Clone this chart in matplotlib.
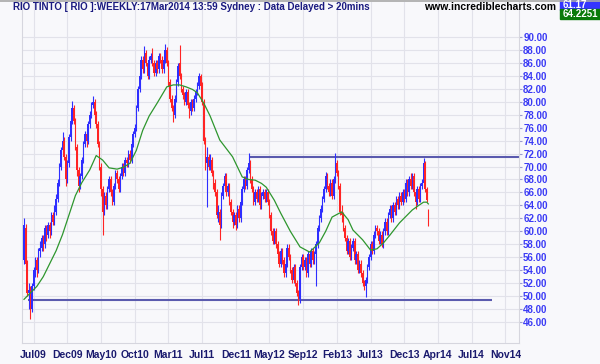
import matplotlib
matplotlib.use("Agg")
import matplotlib.pyplot as plt
import numpy as np

# weekly candles, RIO (ASX), bar index 0 = late May 2009
opens = [
    55.5, 60.5, 55.0, 50.5, 51.0, 48.0, 51.5, 54.0, 55.5, 54.0,
    57.0, 57.5, 59.0, 58.0, 60.5, 59.5, 61.0, 60.0, 62.5, 61.5,
    63.0, 65.0, 67.5, 70.0, 72.5, 74.0, 71.5, 68.0, 70.5, 74.5,
    77.0, 79.0, 77.0, 73.0, 69.5, 67.0, 68.5, 71.0, 73.5, 75.0,
    74.0, 76.5, 78.0, 79.5, 80.0, 78.0, 76.5, 73.5, 70.0, 66.5,
    63.0, 65.5, 64.0, 66.5, 68.0, 66.0, 64.5, 67.0, 69.0, 68.0,
    66.5, 68.5, 70.0, 69.0, 71.0, 70.5, 72.0, 71.0, 73.5, 75.0,
    76.0, 79.0, 82.0, 84.0, 86.5, 85.0, 87.5, 86.0, 84.0, 86.5,
    87.0, 86.0, 84.5, 86.0, 85.0, 87.0, 86.5, 85.0, 86.5, 88.0,
    86.0, 83.0, 80.5, 79.0, 78.0, 80.5, 83.0, 86.0, 84.0, 82.0,
    81.0, 80.0, 81.5, 79.5, 78.5, 80.0, 79.0, 80.5, 81.5, 82.5,
    84.0, 82.5, 80.0, 74.0, 70.5, 71.5, 70.0, 71.0, 69.0, 67.5,
    66.0, 62.5, 63.0, 61.0, 65.5, 67.0, 68.5, 66.0, 67.0, 64.5,
    63.0, 61.5, 62.5, 61.0, 63.5, 62.0, 64.5, 66.5, 68.0, 67.0,
    69.5, 70.5, 68.0, 66.5, 64.5, 66.0, 65.0, 66.5, 64.0, 65.5,
    66.0, 65.0, 66.0, 64.5, 62.5, 60.0, 58.5, 60.0, 58.0, 56.5,
    55.0, 57.0, 55.5, 53.5, 55.0, 57.5, 56.0, 54.0, 52.5, 54.5,
    52.0, 50.5, 49.5, 54.5, 56.0, 54.5, 55.5, 53.5, 56.5, 55.0,
    57.0, 55.5, 56.5, 58.0, 60.5, 62.0, 63.5, 65.0, 66.5, 68.5,
    67.0, 66.0, 67.5, 65.5, 68.0, 70.5, 69.0, 67.0, 63.0, 62.5,
    60.5, 59.0, 57.0, 58.5, 56.0, 57.5, 58.5, 55.5, 56.5, 54.0,
    55.0, 53.5, 52.0, 51.5, 52.5, 54.5, 56.0, 58.0, 57.0, 59.5,
    60.5, 60.0, 58.5, 59.5, 58.0, 60.0, 61.5, 60.0, 62.5, 63.5,
    62.0, 64.0, 63.0, 65.0, 64.0, 65.5, 64.5, 66.0, 65.0, 67.5,
    66.0, 68.0, 67.0, 68.5, 66.0, 64.5, 66.5, 65.0, 67.0, 67.5,
    70.5, 66.5, 63.2,
]
highs = [
    62.0, 61.2, 55.5, 52.0, 51.5, 52.0, 54.5, 56.0, 56.0, 57.5,
    58.5, 59.5, 59.5, 61.0, 61.0, 61.5, 61.5, 63.0, 63.0, 64.0,
    65.8, 68.0, 70.5, 73.0, 75.3, 74.5, 72.0, 71.0, 75.0, 77.5,
    80.1, 79.5, 77.5, 73.5, 70.0, 69.0, 71.5, 74.0, 75.5, 75.5,
    77.0, 78.5, 80.0, 80.9, 80.5, 78.5, 77.0, 74.0, 70.5, 67.0,
    66.0, 66.0, 67.0, 68.5, 68.5, 66.5, 67.5, 69.5, 69.5, 68.5,
    69.0, 70.5, 70.5, 71.5, 71.5, 72.5, 72.5, 74.0, 75.5, 76.5,
    79.5, 82.5, 84.5, 87.0, 87.0, 88.6, 88.0, 86.5, 87.0, 87.5,
    88.3, 86.5, 86.5, 86.5, 87.5, 87.5, 87.0, 87.0, 88.9, 88.5,
    86.5, 83.5, 81.0, 79.5, 81.0, 83.5, 86.0, 88.8, 84.5, 82.5,
    81.5, 82.0, 82.0, 80.0, 80.5, 80.5, 81.0, 82.0, 83.0, 84.4,
    84.3, 83.0, 80.5, 74.5, 73.0, 72.0, 72.0, 71.5, 69.5, 68.0,
    66.5, 64.0, 63.5, 66.0, 67.5, 69.0, 69.0, 67.5, 67.5, 65.0,
    63.5, 63.0, 63.0, 64.0, 64.0, 65.0, 67.0, 68.5, 68.5, 70.0,
    72.1, 71.0, 68.5, 67.0, 66.5, 66.5, 67.0, 67.0, 66.0, 66.5,
    66.5, 66.5, 66.5, 65.0, 63.0, 60.5, 60.5, 60.5, 58.5, 57.0,
    57.5, 57.5, 56.0, 55.5, 58.0, 58.0, 56.5, 54.5, 55.0, 55.0,
    52.5, 51.0, 55.0, 56.5, 56.5, 56.0, 56.0, 57.0, 57.0, 57.5,
    57.5, 57.0, 58.5, 61.0, 62.5, 64.0, 65.5, 67.0, 69.2, 69.0,
    67.5, 68.0, 68.0, 68.5, 72.1, 71.0, 69.5, 67.5, 64.0, 63.0,
    61.0, 59.5, 59.0, 59.0, 58.0, 59.0, 59.0, 57.0, 57.0, 55.5,
    55.5, 54.0, 52.5, 53.0, 55.0, 56.5, 58.5, 58.5, 60.0, 61.0,
    61.0, 60.5, 60.0, 60.0, 60.5, 62.0, 62.0, 63.0, 64.0, 64.0,
    64.5, 64.5, 65.5, 65.5, 66.0, 66.0, 66.5, 66.5, 68.0, 68.0,
    68.5, 69.0, 69.0, 69.0, 66.5, 67.0, 67.0, 67.5, 68.0, 71.3,
    70.8, 66.8, 63.4,
]
lows = [
    55.0, 54.5, 50.0, 48.0, 46.5, 47.5, 51.0, 53.0, 53.0, 53.5,
    56.0, 57.0, 57.0, 57.5, 58.5, 59.0, 59.0, 59.5, 61.0, 61.0,
    62.5, 64.5, 67.0, 69.5, 72.0, 71.0, 67.0, 67.5, 70.0, 74.0,
    76.5, 76.5, 72.5, 68.5, 66.0, 66.5, 68.0, 70.5, 73.0, 73.0,
    73.5, 76.0, 77.5, 79.0, 77.5, 76.0, 73.0, 69.5, 65.5, 59.5,
    62.5, 63.5, 63.5, 66.0, 65.5, 64.0, 64.0, 66.5, 67.5, 66.0,
    66.0, 68.0, 68.5, 68.5, 70.0, 70.0, 70.5, 70.5, 73.0, 74.5,
    75.5, 78.5, 81.5, 83.5, 84.5, 84.5, 85.5, 83.5, 83.5, 86.0,
    85.5, 84.0, 84.0, 84.5, 84.5, 86.0, 84.5, 84.5, 86.0, 85.5,
    82.5, 80.0, 78.5, 76.9, 77.5, 80.0, 82.5, 83.5, 81.5, 80.5,
    79.5, 79.5, 79.0, 77.5, 78.0, 78.5, 78.5, 80.0, 81.0, 82.0,
    82.0, 79.5, 73.5, 69.5, 63.8, 69.5, 69.5, 68.5, 66.5, 65.5,
    62.0, 61.5, 58.7, 60.5, 65.0, 66.5, 65.5, 65.5, 64.0, 62.5,
    60.5, 61.0, 60.2, 60.5, 61.5, 61.5, 64.0, 66.0, 66.5, 66.5,
    69.0, 67.5, 66.0, 64.0, 64.0, 64.5, 64.5, 63.5, 63.5, 65.0,
    64.5, 64.5, 64.0, 62.0, 59.5, 58.0, 58.0, 57.5, 56.0, 54.5,
    54.5, 55.0, 53.0, 53.0, 54.5, 55.5, 53.5, 52.0, 52.0, 51.5,
    50.0, 48.6, 49.0, 54.0, 54.0, 54.0, 53.0, 53.0, 54.5, 54.5,
    55.0, 55.0, 51.6, 57.5, 60.0, 61.5, 63.0, 64.5, 66.0, 66.5,
    65.5, 65.5, 65.0, 65.0, 67.5, 68.5, 66.5, 62.5, 61.5, 60.0,
    58.5, 56.5, 56.5, 55.5, 55.5, 57.0, 55.0, 55.0, 53.5, 53.5,
    53.0, 51.5, 51.0, 49.9, 52.0, 54.0, 55.5, 56.5, 56.5, 59.0,
    59.5, 58.0, 58.0, 57.6, 57.5, 59.5, 59.5, 59.5, 62.0, 61.5,
    61.5, 62.5, 62.5, 63.5, 63.5, 64.0, 64.0, 64.5, 64.5, 65.5,
    65.5, 66.5, 66.5, 65.5, 63.5, 64.0, 64.5, 64.5, 66.5, 67.0,
    66.0, 64.5, 60.8,
]
closes = [
    61.0, 55.0, 50.5, 51.0, 48.0, 51.5, 54.0, 55.5, 54.0, 57.0,
    57.5, 59.0, 58.0, 60.5, 59.5, 61.0, 60.0, 62.5, 61.5, 63.0,
    65.0, 67.5, 70.0, 72.5, 74.0, 71.5, 68.0, 70.5, 74.5, 77.0,
    79.0, 77.0, 73.0, 69.5, 67.0, 68.5, 71.0, 73.5, 75.0, 74.0,
    76.5, 78.0, 79.5, 80.0, 78.0, 76.5, 73.5, 70.0, 66.5, 63.0,
    65.5, 64.0, 66.5, 68.0, 66.0, 64.5, 67.0, 69.0, 68.0, 66.5,
    68.5, 70.0, 69.0, 71.0, 70.5, 72.0, 71.0, 73.5, 75.0, 76.0,
    79.0, 82.0, 84.0, 86.5, 85.0, 87.5, 86.0, 84.0, 86.5, 87.0,
    86.0, 84.5, 86.0, 85.0, 87.0, 86.5, 85.0, 86.5, 88.0, 86.0,
    83.0, 80.5, 79.0, 78.0, 80.5, 83.0, 85.5, 84.0, 82.0, 81.0,
    80.0, 81.5, 79.5, 78.5, 80.0, 79.0, 80.5, 81.5, 82.5, 84.0,
    82.5, 80.0, 74.0, 70.5, 71.5, 70.0, 71.0, 69.0, 67.5, 66.0,
    62.5, 63.0, 61.0, 65.5, 67.0, 68.5, 66.0, 67.0, 64.5, 63.0,
    61.5, 62.5, 61.0, 63.5, 62.0, 64.5, 66.5, 68.0, 67.0, 69.5,
    70.5, 68.0, 66.5, 64.5, 66.0, 65.0, 66.5, 64.0, 65.5, 66.0,
    65.0, 66.0, 64.5, 62.5, 60.0, 58.5, 60.0, 58.0, 56.5, 55.0,
    57.0, 55.5, 53.5, 55.0, 57.5, 56.0, 54.0, 52.5, 54.5, 52.0,
    50.5, 49.5, 54.5, 56.0, 54.5, 55.5, 53.5, 56.5, 55.0, 57.0,
    55.5, 56.5, 58.0, 60.5, 62.0, 63.5, 65.0, 66.5, 68.5, 67.0,
    66.0, 67.5, 65.5, 68.0, 70.5, 69.0, 67.0, 63.0, 62.5, 60.5,
    59.0, 57.0, 58.5, 56.0, 57.5, 58.5, 55.5, 56.5, 54.0, 55.0,
    53.5, 52.0, 51.5, 52.5, 54.5, 56.0, 58.0, 57.0, 59.5, 60.5,
    60.0, 58.5, 59.5, 58.0, 60.0, 61.5, 60.0, 62.5, 63.5, 62.0,
    64.0, 63.0, 65.0, 64.0, 65.5, 64.5, 66.0, 65.0, 67.5, 66.0,
    68.0, 67.0, 68.5, 66.0, 64.5, 66.5, 65.0, 67.0, 67.5, 70.5,
    66.5, 64.8, 61.17,
]

# moving average (green), read at selected bars
ma_idx = [0, 4, 8, 12, 16, 20, 24, 28, 32, 36, 41, 45, 49, 53, 58, 62, 66,
          70, 74, 78, 83, 89, 93, 97, 101, 105, 108, 112, 116, 122, 126, 130,
          136, 140, 144, 148, 151, 156, 160, 166, 172, 178, 184, 188, 192,
          198, 202, 205, 211, 216, 220, 224, 228, 234, 238, 242, 246, 249,
          251, 252]
ma_val = [49.5, 50.5, 51.5, 53.0, 55.0, 57.0, 59.5, 62.5, 65.5, 67.5, 69.5,
          71.7, 71.0, 69.8, 69.6, 69.9, 70.5, 72.5, 75.6, 77.8, 79.8, 82.3,
          82.6, 82.6, 82.3, 81.9, 81.4, 79.8, 77.8, 74.1, 72.8, 71.5, 68.4,
          68.0, 67.9, 67.4, 66.8, 64.8, 62.8, 60.0, 57.6, 56.8, 58.2, 60.0,
          62.2, 63.0, 61.8, 60.2, 58.7, 57.1, 57.3, 58.2, 59.4, 61.3, 62.3,
          63.3, 64.0, 64.5, 64.5, 64.2251]

# trend lines: (start bar, end bar, level)
support = (2.5, 291.5, 49.4)
resistance = (140.8, 308.5, 71.4)

tick_labels = ["Jul09", "Dec09", "May10", "Oct10", "Mar11", "Jul11", "Dec11",
               "May12", "Sep12", "Feb13", "Jul13", "Dec13", "Apr14", "Jul14",
               "Nov14"]
tick_pos = [6 + 21 * k for k in range(len(tick_labels))]
y_ticks = np.arange(46, 91, 2)

bg = "#F8F8FB"
up_col = "#2E2EFF"
dn_col = "#FF2424"

fig = plt.figure(figsize=(6.0, 3.64), dpi=100, facecolor=bg)
ax = fig.add_axes([22 / 600, 21 / 364, 497 / 600, 341 / 364], facecolor=bg)

x = np.arange(len(closes))
o = np.array(opens)
c = np.array(closes)
cols = [up_col if cc >= oo else dn_col for oo, cc in zip(o, c)]

ax.vlines(x, lows, highs, colors=cols, linewidth=0.8, zorder=3)
bottoms = np.minimum(o, c)
heights = np.maximum(np.abs(c - o), 0.3)
ax.bar(x, heights, bottom=bottoms, width=0.9, color=cols, linewidth=0, zorder=3)

ax.plot(ma_idx, ma_val, color="#2E962E", linewidth=0.9, zorder=4)

line_col = "#5A5AAE"
ax.hlines(support[2], support[0], support[1], colors=line_col, linewidth=1.5, zorder=2)
ax.hlines(resistance[2], resistance[0], resistance[1], colors=line_col, linewidth=1.5, zorder=2)

ax.set_xlim(-1.25, 308.5)
ax.set_ylim(42.76, 95.4)

ax.set_xticks(tick_pos)
ax.set_xticklabels(tick_labels, fontsize=7.5, fontweight="bold", color="#1A1A6E",
                   family="Liberation Sans")
ax.tick_params(axis="x", length=0, pad=5)

ax.yaxis.tick_right()
ax.set_yticks(y_ticks)
ax.set_yticklabels([f"{v:.2f}" for v in y_ticks], fontsize=7, fontweight="bold",
                   color="#3A3AF5", family="Liberation Sans")
ax.tick_params(axis="y", length=2.5, color="#9A9AD0", pad=0.5)

ax.grid(True, color="#E2E2EA", linewidth=0.8, zorder=0)
ax.set_axisbelow(True)
for s in ax.spines.values():
    s.set_color("#D6D6DE")
    s.set_linewidth(0.8)
ax.spines["top"].set_visible(False)

# header texts
fig.text(13 / 600, 1 - 7 / 364,
         "RIO TINTO [ RIO ]:WEEKLY:17Mar2014 13:59 Sydney : Data Delayed > 20mins",
         fontsize=7, fontweight="bold", color="#1A1A80", va="center",
         family="Liberation Sans")
fig.text(556 / 600, 1 - 7 / 364, "www.incrediblecharts.com", fontsize=7.5,
         fontweight="bold", color="black", va="center", ha="right",
         family="Liberation Sans")

fig.patches.append(plt.Rectangle((560 / 600, 1 - 9.5 / 364), 40 / 600, 9 / 364,
                                 transform=fig.transFigure, color="#3434FF"))
fig.patches.append(plt.Rectangle((560 / 600, 1 - 18.5 / 364), 40 / 600, 9 / 364,
                                 transform=fig.transFigure, color="#0A7A0A"))
fig.text(563 / 600, 1 - 5 / 364, f"{closes[-1]:.2f}", fontsize=7, fontweight="bold",
         color="white", va="center", family="Liberation Sans")
fig.text(563 / 600, 1 - 14 / 364, f"{ma_val[-1]:.4f}", fontsize=7, fontweight="bold",
         color="white", va="center", family="Liberation Sans")

fig.lines.append(plt.Line2D([0, 1], [1 - 0.5 / 364] * 2, transform=fig.transFigure,
                            color="#A8A8A8", linewidth=1.2))

fig.savefig("out.png", dpi=100, facecolor=bg)
